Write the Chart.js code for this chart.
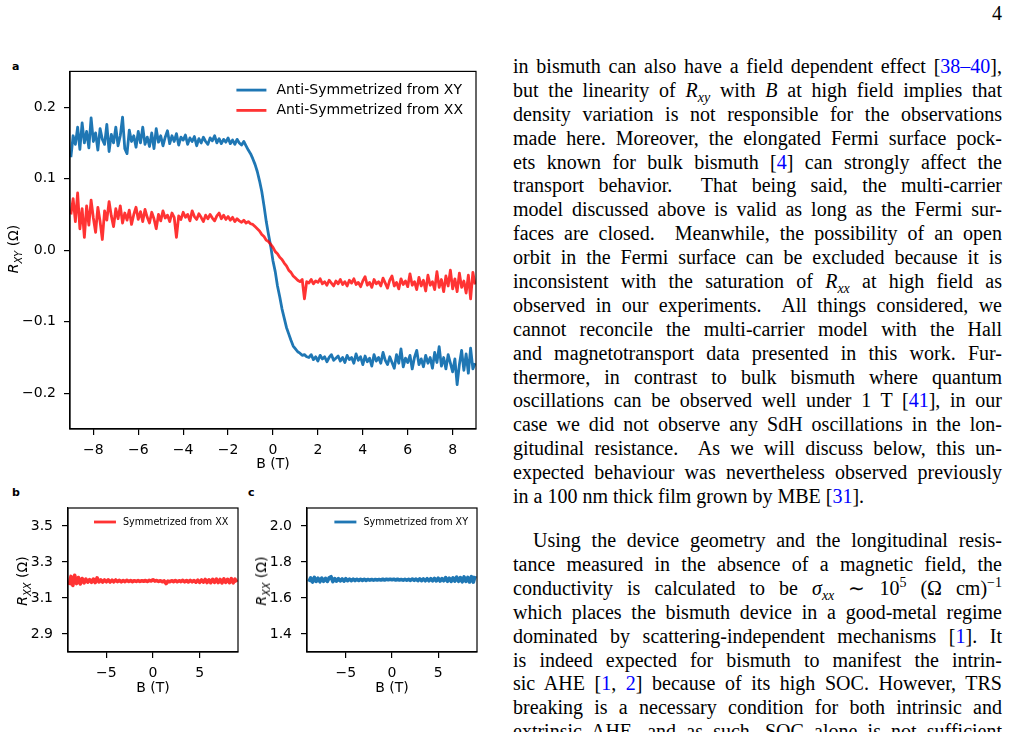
<!DOCTYPE html>
<html>
<head>
<meta charset="utf-8">
<script src="https://cdn.jsdelivr.net/npm/chart.js@4.4.0/dist/chart.umd.min.js"></script>
<style>
  body { margin: 0; background: #fff; width: 1009px; height: 732px; overflow: hidden; position: relative; font-family: "DejaVu Sans", sans-serif; color: #000; }
  .box { position: absolute; }
  .panel { position: absolute; font-weight: bold; font-size: 11px; }
  .ylab { position: absolute; font-size: 14px; white-space: nowrap; transform: translate(-50%, -50%) rotate(-90deg); }
  .ylab sub { font-size: 70%; line-height: 0; }
  #txt { position: absolute; left: 513px; top: 55px; width: 489px; font-family: "Liberation Serif", serif; font-size: 20px; line-height: 23.9px; }
  #txt .l { text-align: justify; text-align-last: justify; height: 23.9px; }
  #txt .e { text-align-last: left; }
  #txt .ind { text-indent: 20px; }
  #txt .gap { height: 20.2px; }
  #txt sub, #txt sup { font-size: 70%; line-height: 0; }
  .c { color: #0000ff; }
  #pg { position: absolute; right: 7px; top: 2px; font-family: "Liberation Serif", serif; font-size: 20px; }
</style>
</head>
<body>

<div id="pg">4</div>

<div class="panel" style="left:12px;top:60px">a</div>
<div class="panel" style="left:12px;top:486px">b</div>
<div class="panel" style="left:248px;top:486px">c</div>

<div class="box" style="left:0;top:55px;width:500px;height:425px"><canvas id="chartA" width="500" height="425"></canvas></div>
<div class="box" style="left:0;top:480px;width:250px;height:220px"><canvas id="chartB" width="250" height="220"></canvas></div>
<div class="box" style="left:250px;top:480px;width:250px;height:220px"><canvas id="chartC" width="250" height="220"></canvas></div>

<div class="ylab" style="left:13px;top:249px"><i>R</i><sub><i>XY</i></sub> (Ω)</div>
<div class="ylab" style="left:22px;top:581px"><i>R</i><sub><i>XX</i></sub> (Ω)</div>
<div class="ylab" style="left:261px;top:581px"><i>R</i><sub><i>XX</i></sub> (Ω)</div>

<div id="txt">
  <div class="l">in bismuth can also have a field dependent effect [<span class="c">38–40</span>],</div>
  <div class="l">but the linearity of <i>R</i><sub><i>xy</i></sub> with <i>B</i> at high field implies that</div>
  <div class="l">density variation is not responsible for the observations</div>
  <div class="l">made here. Moreover, the elongated Fermi surface pock-</div>
  <div class="l">ets known for bulk bismuth [<span class="c">4</span>] can strongly affect the</div>
  <div class="l">transport behavior.&nbsp; That being said, the multi-carrier</div>
  <div class="l">model discussed above is valid as long as the Fermi sur-</div>
  <div class="l">faces are closed.&nbsp; Meanwhile, the possibility of an open</div>
  <div class="l">orbit in the Fermi surface can be excluded because it is</div>
  <div class="l">inconsistent with the saturation of <i>R</i><sub><i>xx</i></sub> at high field as</div>
  <div class="l">observed in our experiments.&nbsp; All things considered, we</div>
  <div class="l">cannot reconcile the multi-carrier model with the Hall</div>
  <div class="l">and magnetotransport data presented in this work. Fur-</div>
  <div class="l">thermore, in contrast to bulk bismuth where quantum</div>
  <div class="l">oscillations can be observed well under 1 T [<span class="c">41</span>], in our</div>
  <div class="l">case we did not observe any SdH oscillations in the lon-</div>
  <div class="l">gitudinal resistance.&nbsp; As we will discuss below, this un-</div>
  <div class="l">expected behaviour was nevertheless observed previously</div>
  <div class="l e">in a 100 nm thick film grown by MBE [<span class="c">31</span>].</div>
  <div class="gap"></div>
  <div class="l ind">Using the device geometry and the longitudinal resis-</div>
  <div class="l">tance measured in the absence of a magnetic field, the</div>
  <div class="l">conductivity is calculated to be <i>σ</i><sub><i>xx</i></sub> ∼ 10<sup>5</sup> (Ω cm)<sup>−1</sup></div>
  <div class="l">which places the bismuth device in a good-metal regime</div>
  <div class="l">dominated by scattering-independent mechanisms [<span class="c">1</span>]. It</div>
  <div class="l">is indeed expected for bismuth to manifest the intrin-</div>
  <div class="l">sic AHE [<span class="c">1</span>, <span class="c">2</span>] because of its high SOC. However, TRS</div>
  <div class="l">breaking is a necessary condition for both intrinsic and</div>
  <div class="l">extrinsic AHE, and as such, SOC alone is not sufficient</div>
</div>

<script>
// field sweep for panel a (T)
const fieldA = [
  -9.0,-8.9,-8.8,-8.7,-8.6,-8.5,-8.4,-8.3,-8.2,-8.1,
  -8.0,-7.9,-7.8,-7.7,-7.6,-7.5,-7.4,-7.3,-7.2,-7.1,
  -7.0,-6.9,-6.8,-6.7,-6.6,-6.5,-6.4,-6.3,-6.2,-6.1,
  -6.0,-5.9,-5.8,-5.7,-5.6,-5.5,-5.4,-5.3,-5.2,-5.1,
  -5.0,-4.9,-4.8,-4.7,-4.6,-4.5,-4.4,-4.3,-4.2,-4.1,
  -4.0,-3.9,-3.8,-3.7,-3.6,-3.5,-3.4,-3.3,-3.2,-3.1,
  -3.0,-2.9,-2.8,-2.7,-2.6,-2.5,-2.4,-2.3,-2.2,-2.1,
  -2.0,-1.9,-1.8,-1.7,-1.6,-1.5,-1.4,-1.3,-1.2,-1.1,
  -1.0,-0.9,-0.8,-0.7,-0.6,-0.5,-0.4,-0.3,-0.2,-0.1,
  0.0,0.1,0.2,0.3,0.4,0.5,0.6,0.7,0.8,0.9,
  1.0,1.1,1.2,1.3,1.4,1.5,1.6,1.7,1.8,1.9,
  2.0,2.1,2.2,2.3,2.4,2.5,2.6,2.7,2.8,2.9,
  3.0,3.1,3.2,3.3,3.4,3.5,3.6,3.7,3.8,3.9,
  4.0,4.1,4.2,4.3,4.4,4.5,4.6,4.7,4.8,4.9,
  5.0,5.1,5.2,5.3,5.4,5.5,5.6,5.7,5.8,5.9,
  6.0,6.1,6.2,6.3,6.4,6.5,6.6,6.7,6.8,6.9,
  7.0,7.1,7.2,7.3,7.4,7.5,7.6,7.7,7.8,7.9,
  8.0,8.1,8.2,8.3,8.4,8.5,8.6,8.7,8.8,8.9,
  9.0
];

// anti-symmetrized from XY (Ohm)
const antiXY = [
  0.130,0.160,0.148,0.172,0.141,0.178,0.150,0.166,0.143,0.185,
  0.152,0.164,0.140,0.170,0.155,0.148,0.176,0.138,0.162,0.150,
  0.172,0.146,0.160,0.186,0.142,0.135,0.168,0.152,0.160,0.144,
  0.166,0.150,0.172,0.148,0.158,0.145,0.164,0.142,0.170,0.151,
  0.160,0.146,0.158,0.167,0.149,0.160,0.152,0.163,0.147,0.158,
  0.154,0.161,0.148,0.157,0.152,0.159,0.146,0.156,0.150,0.158,
  0.152,0.148,0.157,0.153,0.160,0.150,0.156,0.149,0.155,0.151,
  0.157,0.149,0.154,0.148,0.155,0.150,0.147,0.152,0.146,0.140,
  0.135,0.128,0.120,0.110,0.097,0.082,0.062,0.040,0.022,0.005,
  -0.015,-0.030,-0.050,-0.065,-0.082,-0.095,-0.108,-0.117,-0.126,-0.134,
  -0.138,-0.142,-0.144,-0.147,-0.146,-0.149,-0.150,-0.146,-0.153,-0.149,
  -0.155,-0.147,-0.152,-0.149,-0.156,-0.150,-0.146,-0.154,-0.151,-0.148,
  -0.155,-0.150,-0.157,-0.147,-0.153,-0.150,-0.158,-0.145,-0.154,-0.149,
  -0.160,-0.148,-0.156,-0.151,-0.162,-0.146,-0.155,-0.150,-0.158,-0.143,
  -0.154,-0.160,-0.149,-0.157,-0.165,-0.146,-0.158,-0.138,-0.163,-0.151,
  -0.157,-0.147,-0.166,-0.150,-0.140,-0.160,-0.152,-0.163,-0.147,-0.158,
  -0.150,-0.165,-0.143,-0.157,-0.135,-0.162,-0.150,-0.166,-0.146,-0.158,
  -0.170,-0.152,-0.188,-0.160,-0.140,-0.168,-0.145,-0.172,-0.137,-0.166,
  -0.158
];

// anti-symmetrized from XX (Ohm)
const antiXX = [
  0.050,0.072,0.040,0.080,0.030,0.058,0.018,0.062,0.035,0.070,
  0.045,0.025,0.060,0.040,0.015,0.055,0.042,0.068,0.048,0.033,
  0.058,0.044,0.062,0.038,0.052,0.042,0.056,0.036,0.050,0.060,
  0.043,0.054,0.040,0.057,0.046,0.038,0.053,0.044,0.030,0.050,
  0.041,0.055,0.045,0.049,0.040,0.052,0.046,0.018,0.048,0.043,
  0.053,0.046,0.050,0.041,0.055,0.047,0.043,0.051,0.046,0.040,
  0.049,0.044,0.050,0.045,0.041,0.048,0.052,0.044,0.049,0.043,
  0.047,0.042,0.046,0.040,0.044,0.041,0.039,0.042,0.038,0.040,
  0.037,0.036,0.033,0.030,0.027,0.022,0.019,0.014,0.012,0.008,
  0.004,-0.002,-0.005,-0.010,-0.013,-0.018,-0.022,-0.028,-0.031,-0.036,
  -0.039,-0.042,-0.044,-0.041,-0.068,-0.044,-0.046,-0.041,-0.047,-0.043,
  -0.045,-0.040,-0.047,-0.044,-0.049,-0.042,-0.046,-0.050,-0.043,-0.047,
  -0.041,-0.048,-0.044,-0.050,-0.042,-0.046,-0.040,-0.048,-0.045,-0.051,
  -0.043,-0.037,-0.049,-0.045,-0.052,-0.041,-0.047,-0.044,-0.050,-0.039,
  -0.046,-0.053,-0.042,-0.036,-0.050,-0.045,-0.054,-0.040,-0.048,-0.043,
  -0.051,-0.033,-0.049,-0.044,-0.055,-0.038,-0.050,-0.042,-0.057,-0.035,
  -0.049,-0.044,-0.055,-0.030,-0.052,-0.041,-0.058,-0.036,-0.050,-0.028,
  -0.054,-0.040,-0.058,-0.032,-0.052,-0.043,-0.060,-0.035,-0.068,-0.031,
  -0.048
];

// field sweep for panels b and c (T)
const fieldBC = [
  -9.0,-8.8,-8.6,-8.4,-8.2,-8.0,-7.8,-7.6,-7.4,-7.2,
  -7.0,-6.8,-6.6,-6.4,-6.2,-6.0,-5.8,-5.6,-5.4,-5.2,
  -5.0,-4.8,-4.6,-4.4,-4.2,-4.0,-3.8,-3.6,-3.4,-3.2,
  -3.0,-2.8,-2.6,-2.4,-2.2,-2.0,-1.8,-1.6,-1.4,-1.2,
  -1.0,-0.8,-0.6,-0.4,-0.2,0.0,0.2,0.4,0.6,0.8,
  1.0,1.2,1.4,1.6,1.8,2.0,2.2,2.4,2.6,2.8,
  3.0,3.2,3.4,3.6,3.8,4.0,4.2,4.4,4.6,4.8,
  5.0,5.2,5.4,5.6,5.8,6.0,6.2,6.4,6.6,6.8,
  7.0,7.2,7.4,7.6,7.8,8.0,8.2,8.4,8.6,8.8,
  9.0
];

// symmetrized from XX (Ohm)
const symXX = [
  3.172,3.220,3.170,3.226,3.180,3.214,3.178,3.208,3.184,3.205,
  3.188,3.202,3.187,3.205,3.186,3.212,3.189,3.201,3.188,3.200,
  3.190,3.201,3.189,3.199,3.190,3.200,3.191,3.198,3.190,3.197,
  3.191,3.198,3.192,3.197,3.191,3.196,3.192,3.197,3.192,3.196,
  3.193,3.197,3.192,3.198,3.195,3.201,3.194,3.197,3.192,3.196,
  3.190,3.195,3.180,3.194,3.190,3.196,3.191,3.197,3.190,3.196,
  3.191,3.198,3.190,3.197,3.189,3.198,3.190,3.197,3.188,3.199,
  3.187,3.200,3.188,3.203,3.186,3.201,3.185,3.204,3.187,3.205,
  3.186,3.203,3.184,3.206,3.187,3.204,3.185,3.207,3.184,3.205,
  3.188
];

// symmetrized from XY (Ohm)
const symXY = [
  1.690,1.712,1.688,1.714,1.692,1.710,1.690,1.711,1.693,1.709,
  1.692,1.712,1.718,1.691,1.708,1.694,1.707,1.695,1.706,1.694,
  1.707,1.696,1.705,1.696,1.705,1.697,1.704,1.697,1.704,1.698,
  1.704,1.698,1.703,1.699,1.703,1.699,1.703,1.700,1.703,1.700,
  1.704,1.700,1.704,1.701,1.704,1.701,1.704,1.700,1.704,1.700,
  1.703,1.699,1.704,1.699,1.704,1.698,1.705,1.698,1.705,1.697,
  1.706,1.697,1.706,1.696,1.707,1.696,1.708,1.695,1.709,1.695,
  1.710,1.694,1.708,1.696,1.713,1.693,1.710,1.692,1.712,1.694,
  1.716,1.693,1.713,1.690,1.717,1.692,1.714,1.689,1.719,1.688,
  1.722
];

const ticksAX = [-8, -6, -4, -2, 0, 2, 4, 6, 8];
const ticksAY = [-0.2, -0.1, 0, 0.1, 0.2];
const ticksBCX = [-5, 0, 5];
const ticksBY = [2.9, 3.1, 3.3, 3.5];
const ticksCY = [1.4, 1.6, 1.8, 2.0];

const blue = '#1f77b4';
const red = 'rgba(255,0,0,0.8)';

Chart.defaults.font.family = 'DejaVu Sans';
Chart.defaults.color = '#000';

function pts(xs, ys) {
  return xs.map((x, i) => ({x: x, y: ys[i]}));
}

function minus(s) {
  return s.replace('-', '\u2212');
}

// closed box around the axes, like matplotlib spines
const frame = {
  id: 'frame',
  afterDatasetsDraw(chart) {
    const {ctx, chartArea: a} = chart;
    ctx.save();
    ctx.strokeStyle = '#000';
    ctx.lineWidth = 1.2;
    ctx.strokeRect(a.left, a.top, a.right - a.left, a.bottom - a.top);
    ctx.restore();
  }
};

// legend sitting inside the axes, top right
const insetLegend = {
  id: 'insetLegend',
  afterDatasetsDraw(chart, args, o) {
    const {ctx, chartArea: a} = chart;
    const sets = chart.data.datasets;
    ctx.save();
    ctx.font = o.size + 'px "DejaVu Sans"';
    ctx.textBaseline = 'middle';
    const w = Math.max(...sets.map(d => ctx.measureText(d.label).width));
    const x0 = a.right - o.right - w - o.gap - o.line;
    sets.forEach((d, i) => {
      const y = a.top + o.top + i * o.row;
      ctx.strokeStyle = d.borderColor;
      ctx.lineWidth = o.lw;
      ctx.beginPath();
      ctx.moveTo(x0, y);
      ctx.lineTo(x0 + o.line, y);
      ctx.stroke();
      ctx.fillStyle = '#000';
      ctx.fillText(d.label, x0 + o.line + o.gap, y);
    });
    ctx.restore();
  }
};

function series(label, xs, ys, color, order, width) {
  return {
    label: label,
    data: pts(xs, ys),
    borderColor: color,
    borderWidth: width,
    borderJoinStyle: 'round',
    pointRadius: 0,
    tension: 0,
    order: order
  };
}

function makePanel(id, datasets, o) {
  const grid = {drawOnChartArea: false, drawTicks: true, tickLength: 6, color: '#000', lineWidth: 1.2};
  const border = {display: true, color: '#000', width: 1.2};
  return new Chart(document.getElementById(id), {
    type: 'line',
    data: {datasets: datasets},
    options: {
      responsive: false,
      animation: false,
      devicePixelRatio: 1,
      layout: {padding: o.padding},
      plugins: {
        legend: {display: false},
        tooltip: {enabled: false},
        insetLegend: o.legend
      },
      scales: {
        x: {
          type: 'linear',
          min: o.xMin,
          max: o.xMax,
          afterBuildTicks: s => { s.ticks = o.xTicks.map(v => ({value: v})); },
          afterFit: s => { s.height = o.xHeight; },
          ticks: {font: {size: 14}, padding: 7, maxRotation: 0, autoSkip: false,
                  callback: v => minus(String(v))},
          grid: grid,
          border: border,
          title: {display: true, text: 'B (T)', font: {size: 14}, padding: 0}
        },
        y: {
          type: 'linear',
          min: o.yMin,
          max: o.yMax,
          afterBuildTicks: s => { s.ticks = o.yTicks.map(v => ({value: v})); },
          afterFit: s => { s.width = o.yWidth; },
          ticks: {font: {size: 14}, padding: o.yPad, autoSkip: false,
                  callback: v => minus(v.toFixed(1))},
          grid: grid,
          border: border
        }
      }
    },
    plugins: [frame, insetLegend]
  });
}

makePanel('chartA', [
  series('Anti-Symmetrized from XY', fieldA, antiXY, blue, 1, 2.8),
  series('Anti-Symmetrized from XX', fieldA, antiXX, red, 0, 2.8)
], {
  xMin: -9.04, xMax: 9.04, xTicks: ticksAX,
  yMin: -0.25, yMax: 0.25, yTicks: ticksAY, yPad: 8,
  padding: {top: 12, right: 24, bottom: 7, left: 0},
  yWidth: 70, xHeight: 44,
  legend: {size: 14, line: 30, gap: 10, right: 13, top: 18.7, row: 20.3, lw: 2.8}
});

makePanel('chartB', [
  series('Symmetrized from XX', fieldBC, symXX, red, 0, 3.6)
], {
  xMin: -9.12, xMax: 9.12, xTicks: ticksBCX,
  yMin: 2.8, yMax: 3.6, yTicks: ticksBY, yPad: 9,
  padding: {top: 28, right: 12, bottom: 3, left: 0},
  yWidth: 68, xHeight: 45,
  legend: {size: 9.6, line: 22, gap: 7, right: 9.7, top: 14, row: 14, lw: 2.8}
});

makePanel('chartC', [
  series('Symmetrized from XY', fieldBC, symXY, blue, 0, 3.6)
], {
  xMin: -9.2, xMax: 9.2, xTicks: ticksBCX,
  yMin: 1.3, yMax: 2.1, yTicks: ticksCY, yPad: 9,
  padding: {top: 28, right: 23, bottom: 3, left: 0},
  yWidth: 57, xHeight: 45,
  legend: {size: 9.6, line: 22, gap: 7, right: 9, top: 14, row: 14, lw: 2.8}
});
</script>
</body>
</html>
